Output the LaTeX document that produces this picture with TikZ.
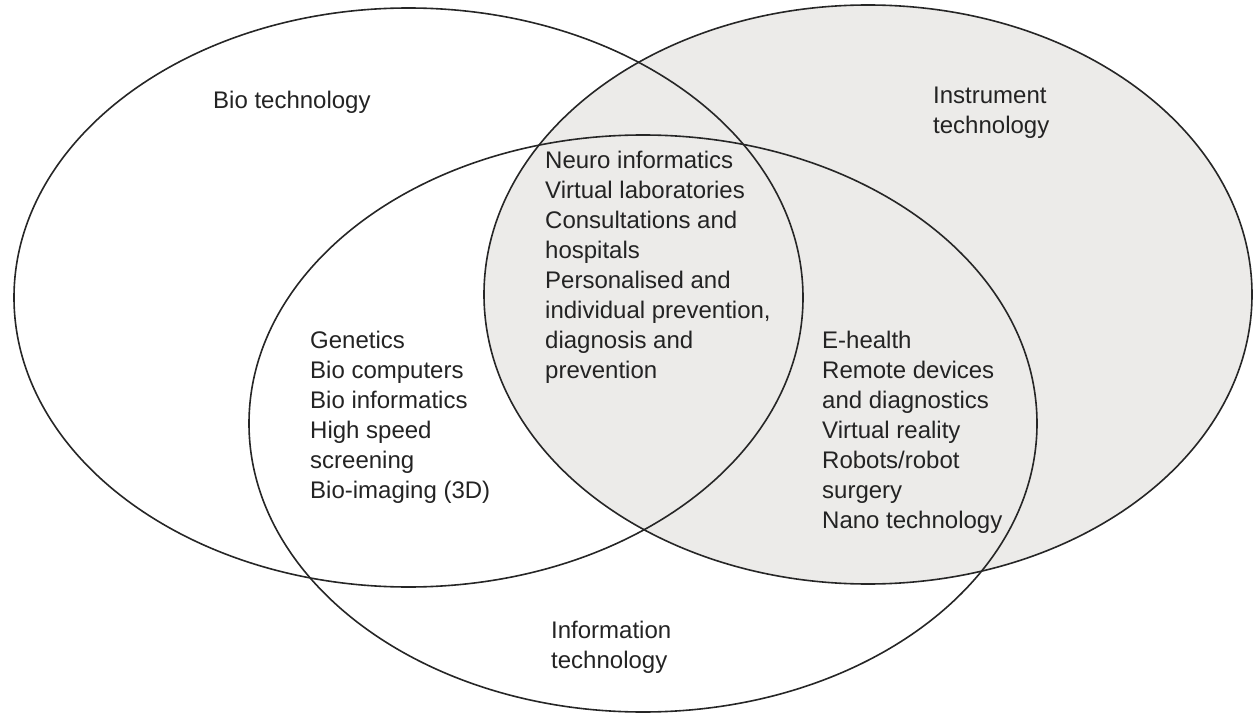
\documentclass[tikz,border=0pt]{standalone}
\usepackage{fontspec}
\setmainfont{Liberation Sans}
\usetikzlibrary{shapes.geometric}
\definecolor{ringline}{RGB}{38,38,38}
\definecolor{instfill}{RGB}{236,235,233}
\definecolor{labeltext}{RGB}{35,35,35}
\begin{document}
\begin{tikzpicture}[x=1pt,y=-1pt,
  ring/.style={ellipse,draw=ringline,line width=1.6pt,inner sep=0pt},
  lbl/.style={anchor=north west,inner sep=0pt,align=left,text=labeltext,
    font=\fontsize{24}{30}\selectfont}]
\useasboundingbox (0,0) rectangle (1253,714);
% the three technology sets; the instrument set is shaded
\node[ring,fill=instfill,minimum width=768pt,minimum height=579pt] (inst) at (868,294.5) {};
\node[ring,minimum width=789pt,minimum height=579pt] (bio) at (408.5,297.5) {};
\node[ring,minimum width=788pt,minimum height=577pt] (info) at (643,423.5) {};
% set names
\node[lbl] (biolbl) at (213,91) {Bio technology};
\node[lbl] (instlbl) at (933,87) {Instrument\\technology};
\node[lbl] (infolbl) at (551,621) {Information\\technology};
% overlap contents
\node[lbl] (bioinfo) at (310,331) {Genetics\\Bio computers\\Bio informatics\\High speed\\screening\\Bio-imaging (3D)};
\node[lbl] (allthree) at (545,151) {Neuro informatics\\Virtual laboratories\\Consultations and\\hospitals\\Personalised and\\individual prevention,\\diagnosis and\\prevention};
\node[lbl] (instinfo) at (822,331) {E-health\\Remote devices\\and diagnostics\\Virtual reality\\Robots/robot\\surgery\\Nano technology};
\end{tikzpicture}
\end{document}
